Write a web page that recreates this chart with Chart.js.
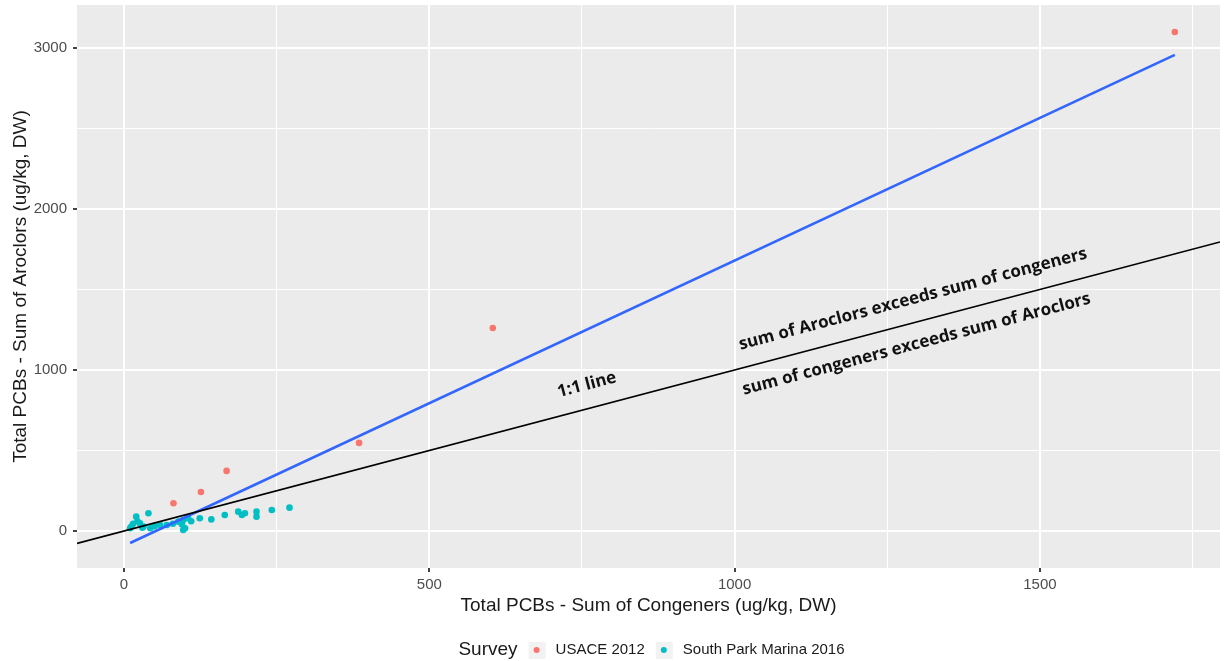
<!DOCTYPE html>
<html>
<head>
<meta charset="utf-8">
<script src="https://cdn.jsdelivr.net/npm/chart.js@4.4.0/dist/chart.umd.min.js"></script>
<style>
  html, body { margin: 0; padding: 0; background: #fff; }
  #wrap { width: 1227px; height: 661px; }
</style>
</head>
<body>
<div id="wrap"><canvas id="chart" width="1227" height="661"></canvas></div>
<script>
// 측정값 (x = 동족체 합, y = Aroclor 합, ug/kg DW)
const usaceX = [81, 126, 168, 385, 604, 1721];
const usaceY = [172, 242, 373, 547, 1261, 3099];

const marinaX = [10, 12, 15, 20, 22, 26, 30, 32, 40, 43, 50, 59, 70, 80, 89, 95, 97, 97, 100, 105, 110, 124, 143, 165, 187, 193, 198, 217, 217, 242, 271];
const marinaY = [17, 27, 45, 89, 60, 48, 20, 27, 110, 17, 30, 37, 37, 45, 58, 40, 68, 6, 17, 79, 60, 79, 72, 99, 120, 99, 110, 120, 89, 130, 145];

// 회귀선 (양 끝점)
const fitX = [10, 1721];
const fitY = [-75, 2957];

// 축 범위 (1:1 선도 이 범위로 그림)
const xRange = [-77, 1795];
const yRange = [-230, 3267];

// 주 눈금 / 보조 격자
const xTicks = [0, 500, 1000, 1500];
const yTicks = [0, 1000, 2000, 3000];
const xGrid = [0, 250, 500, 750, 1000, 1250, 1500, 1750];
const yGrid = [0, 500, 1000, 1500, 2000, 2500, 3000];

const seriesNames = ['USACE 2012', 'South Park Marina 2016'];
const seriesColors = ['#F8766D', '#00BFC4'];

// 주석 문구 (중심 위치, 데이터 좌표)
const noteTexts = ['1:1 line', 'sum of Aroclors exceeds sum of congeners', 'sum of congeners exceeds sum of Aroclors'];
const noteX = [758, 1292, 1298];
const noteY = [907, 1440, 1160];

function toPoints(xs, ys) {
  return xs.map((x, i) => ({ x: x, y: ys[i] }));
}

const panelBg = {
  id: 'panelBg',
  beforeDraw(chart) {
    const { ctx, chartArea: a } = chart;
    ctx.save();
    ctx.fillStyle = '#fff';
    ctx.fillRect(0, 0, chart.width, chart.height);
    ctx.fillStyle = '#EBEBEB';
    ctx.fillRect(a.left, a.top, a.right - a.left, a.bottom - a.top);
    ctx.restore();
  }
};

const notes = {
  id: 'notes',
  afterDatasetsDraw(chart) {
    const { ctx, scales } = chart;
    const sx = scales.x, sy = scales.y;
    const dx = sx.getPixelForValue(1000) - sx.getPixelForValue(0);
    const dy = sy.getPixelForValue(1000) - sy.getPixelForValue(0);
    const ang = Math.atan2(dy, dx);
    ctx.save();
    ctx.fillStyle = '#111';
    ctx.font = 'bold 17px "Open Sans"';
    ctx.textAlign = 'center';
    ctx.textBaseline = 'middle';
    noteTexts.forEach((t, i) => {
      ctx.save();
      ctx.translate(sx.getPixelForValue(noteX[i]), sy.getPixelForValue(noteY[i]));
      ctx.rotate(ang);
      ctx.fillText(t, 0, 0);
      ctx.restore();
    });
    ctx.restore();
  }
};

// 범례: ggplot 스타일로 한 줄
const legendRow = {
  id: 'legendRow',
  afterDraw(chart) {
    const { ctx, chartArea: a } = chart;
    const y = 650;
    ctx.save();
    ctx.textBaseline = 'middle';
    ctx.textAlign = 'left';
    ctx.font = '19px "Liberation Sans"';
    const titleW = ctx.measureText('Survey').width;
    ctx.font = '15px "Liberation Sans"';
    const w = seriesNames.map(s => ctx.measureText(s).width);
    const gap = 19;
    const total = titleW + w[0] + w[1] + gap * 4;
    let x = (a.left + a.right) / 2 + 3 - total / 2;
    ctx.fillStyle = '#1a1a1a';
    ctx.font = '19px "Liberation Sans"';
    ctx.fillText('Survey', x, y);
    x += titleW;
    seriesNames.forEach((s, i) => {
      x += gap;
      ctx.fillStyle = '#F2F2F2';
      ctx.fillRect(x - 8, y - 8, 17, 17);
      ctx.fillStyle = seriesColors[i];
      ctx.beginPath();
      ctx.arc(x, y, 3, 0, Math.PI * 2);
      ctx.fill();
      x += gap;
      ctx.fillStyle = '#1a1a1a';
      ctx.font = '15px "Liberation Sans"';
      ctx.fillText(s, x, y);
      x += w[i];
    });
    ctx.restore();
  }
};

const ctx = document.getElementById('chart').getContext('2d');
new Chart(ctx, {
  type: 'scatter',
  data: {
    datasets: [
      {
        type: 'line',
        data: toPoints(xRange, xRange),
        borderColor: '#000',
        borderWidth: 1.6,
        pointRadius: 0,
        fill: false
      },
      {
        type: 'line',
        data: toPoints(fitX, fitY),
        borderColor: '#3366FF',
        borderWidth: 2.6,
        pointRadius: 0,
        fill: false
      },
      {
        label: seriesNames[0],
        data: toPoints(usaceX, usaceY),
        backgroundColor: seriesColors[0],
        borderWidth: 0,
        pointRadius: 3.3
      },
      {
        label: seriesNames[1],
        data: toPoints(marinaX, marinaY),
        backgroundColor: seriesColors[1],
        borderWidth: 0,
        pointRadius: 3.3
      }
    ]
  },
  options: {
    responsive: false,
    animation: false,
    devicePixelRatio: 1,
    layout: { padding: { top: 5, right: 7, left: 0, bottom: 0 } },
    plugins: {
      legend: { display: false },
      tooltip: { enabled: false }
    },
    scales: {
      x: {
        type: 'linear',
        min: xRange[0],
        max: xRange[1],
        afterBuildTicks(scale) { scale.ticks = xGrid.map(v => ({ value: v })); },
        afterFit(scale) {
          scale.height = 93;
          scale.paddingLeft = 0;
          scale.paddingRight = 0;
        },
        border: { display: false },
        grid: {
          color: '#fff',
          lineWidth: c => xTicks.includes(c.tick.value) ? 2 : 1,
          tickColor: c => xTicks.includes(c.tick.value) ? '#444' : 'rgba(0,0,0,0)',
          tickLength: 4
        },
        ticks: {
          maxRotation: 0,
          autoSkip: false,
          padding: 4,
          color: '#4D4D4D',
          font: { family: 'Liberation Sans', size: 15 },
          callback: v => xTicks.includes(v) ? String(v) : ''
        },
        title: {
          display: true,
          text: 'Total PCBs - Sum of Congeners (ug/kg, DW)',
          color: '#1a1a1a',
          font: { family: 'Liberation Sans', size: 19 },
          padding: { top: 4, bottom: 44 }
        }
      },
      y: {
        type: 'linear',
        min: yRange[0],
        max: yRange[1],
        afterBuildTicks(scale) { scale.ticks = yGrid.map(v => ({ value: v })); },
        afterFit(scale) {
          scale.width = 77;
          scale.paddingTop = 0;
          scale.paddingBottom = 0;
        },
        border: { display: false },
        grid: {
          color: '#fff',
          lineWidth: c => yTicks.includes(c.tick.value) ? 2 : 1,
          tickColor: c => yTicks.includes(c.tick.value) ? '#444' : 'rgba(0,0,0,0)',
          tickLength: 4
        },
        ticks: {
          autoSkip: false,
          padding: 6,
          color: '#4D4D4D',
          font: { family: 'Liberation Sans', size: 15 },
          callback: v => yTicks.includes(v) ? String(v) : ''
        },
        title: {
          display: true,
          text: 'Total PCBs - Sum of Aroclors (ug/kg, DW)',
          color: '#1a1a1a',
          font: { family: 'Liberation Sans', size: 19 },
          padding: { top: 9, bottom: 0 }
        }
      }
    }
  },
  plugins: [panelBg, notes, legendRow]
});
</script>
</body>
</html>
